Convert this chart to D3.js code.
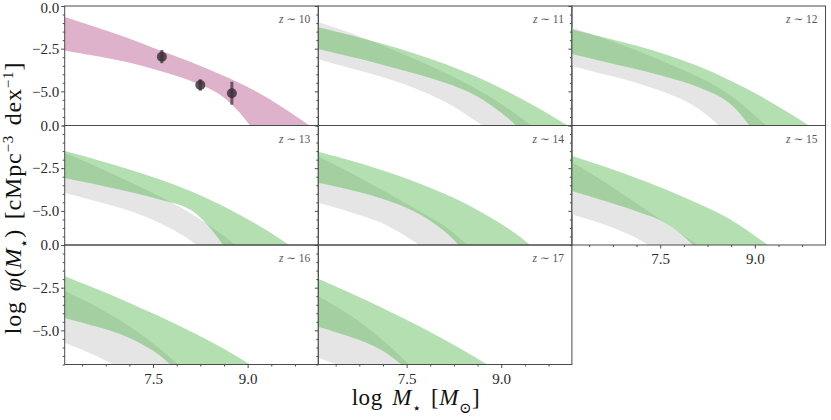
<!DOCTYPE html>
<html>
<head>
<meta charset="utf-8">
<script src="https://cdn.jsdelivr.net/npm/d3@7"></script>
<style>
  body { margin: 0; background: #fff; }
  svg { display: block; font-family: "Liberation Serif", "DejaVu Serif", serif; }
</style>
</head>
<body>
<svg id="chart" width="831" height="420"></svg>
<script>
// mass grid shared by every band edge (log M*)
var xGrid = [6.1, 6.6, 7.1, 7.6, 8.1, 8.6, 9.1, 9.6, 10.1];

var panelLabels = ["10", "11", "12", "13", "14", "15", "16", "17"];

// z~10 band + data points
var pinkUpper = [-0.64, -1.24, -1.87, -2.59, -3.28, -4.05, -4.94, -6.05, -7.3];
var pinkLower = [-2.62, -2.93, -3.3, -3.8, -4.4, -5.3, -7.3, -10.5, -14];
var pointX = [7.64, 8.25, 8.75];
var pointY = [-2.97, -4.63, -5.11];
var pointErr = [0.39, 0.34, 0.68];

// z~11 .. z~17, green band
var greenUpper = [
  [-1.24, -1.7, -2.2, -2.75, -3.38, -4.13, -5.01, -6.01, -7.11],
  [-1.38, -1.83, -2.3, -2.85, -3.52, -4.35, -5.3, -6.4, -7.6],
  [-1.5, -2.0, -2.55, -3.15, -3.85, -4.7, -5.7, -6.85, -8.1],
  [-1.54, -2.04, -2.6, -3.25, -4.0, -4.9, -6.0, -7.4, -8.9],
  [-1.77, -2.39, -3.05, -3.77, -4.57, -5.47, -6.72, -8.2, -9.8],
  [-1.83, -2.57, -3.35, -4.18, -5.06, -6.03, -7.15, -8.45, -9.85],
  [-1.98, -2.8, -3.66, -4.57, -5.55, -6.6, -7.72, -8.9, -10.1]
];
var greenLower = [
  [-2.52, -2.96, -3.42, -3.92, -4.48, -5.25, -6.55, -8.4, -10.5],
  [-2.81, -3.25, -3.68, -4.16, -4.75, -5.7, -8.0, -11, -14],
  [-3.07, -3.45, -3.87, -4.33, -4.95, -6.95, -10.5, -14, -17],
  [-3.36, -3.77, -4.28, -5.0, -6.2, -8.2, -11, -14, -17],
  [-3.84, -4.4, -5.0, -5.75, -7.3, -9.8, -12.5, -15, -18],
  [-4.27, -4.78, -5.4, -6.45, -8.3, -10.5, -13, -15.5, -18],
  [-4.79, -5.38, -6.15, -7.6, -9.5, -11.5, -14, -16.5, -19]
];

// z~11 .. z~17, grey band
var greyUpper = [
  [-0.94, -1.57, -2.28, -3.06, -3.9, -4.85, -5.99, -7.35, -8.8],
  [-1.26, -1.89, -2.57, -3.32, -4.15, -5.2, -6.75, -8.5, -10.5],
  [-1.6, -2.4, -3.25, -4.15, -5.15, -6.4, -7.9, -9.6, -11.5],
  [-1.8, -2.75, -3.75, -4.8, -5.9, -7.45, -9.3, -11.3, -13.5],
  [-2.15, -3.26, -4.5, -5.75, -7.03, -8.5, -10.2, -12, -14],
  [-2.7, -3.6, -4.7, -6.05, -7.7, -9.5, -11.5, -13.5, -15.5],
  [-3.0, -4.1, -5.5, -7.2, -9.0, -11, -13, -15, -17]
];
var greyLower = [
  [-3.12, -3.63, -4.15, -4.77, -5.6, -6.75, -8.1, -9.6, -11.2],
  [-3.51, -3.99, -4.48, -5.1, -6.0, -7.6, -9.6, -11.6, -13.6],
  [-3.94, -4.44, -4.97, -5.7, -6.75, -8.4, -10.3, -12.3, -14.3],
  [-4.53, -5.06, -5.7, -6.75, -8.1, -9.7, -11.4, -13.2, -15],
  [-5.21, -5.78, -6.55, -7.7, -9.0, -10.5, -12, -13.5, -15],
  [-5.73, -6.5, -7.45, -8.6, -9.8, -11, -12.5, -14, -15.5],
  [-6.61, -7.3, -8.1, -9.0, -10, -11, -12.5, -14, -15.5]
];

var yMajor = [0, -2.5, -5.0];
var yMinor = [-0.5, -1, -1.5, -2, -3, -3.5, -4, -4.5, -5.5, -6, -6.5, -7];
var xMajor = [7.5, 9.0];
var xMinor = [6.375, 6.75, 7.125, 7.875, 8.25, 8.625, 9.375, 9.75];

var LEFT = 64.7, TOP = 6, PW = 253.6, PH = 119.5;
var axisColor = "#4a4a4a";

var svg = d3.select("#chart");

var x = d3.scaleLinear().domain([6.1, 10.12]).range([0, PW]);
var y = d3.scaleLinear().domain([-7, 0]).range([PH, 0]);

svg.append("defs").append("clipPath")
    .attr("id", "panel-clip")
  .append("rect")
    .attr("width", PW)
    .attr("height", PH);

var band = d3.area()
    .x(function (d) { return x(d.x); })
    .y0(function (d) { return y(d.lo); })
    .y1(function (d) { return y(d.hi); })
    .curve(d3.curveCatmullRom.alpha(0.5));

var zip = function (lo, hi) {
  return xGrid.map(function (v, i) { return { x: v, lo: lo[i], hi: hi[i] }; });
};

var fmt = d3.format(".1f");

panelLabels.forEach(function (lab, i) {
  var row = Math.floor(i / 3), col = i % 3;
  var g = svg.append("g")
      .attr("transform", "translate(" + (LEFT + col * PW) + "," + (TOP + row * PH) + ")");

  var plot = g.append("g").attr("clip-path", "url(#panel-clip)");

  if (i === 0) {
    plot.append("path")
        .attr("d", band(zip(pinkLower, pinkUpper)))
        .attr("fill", "#dfb2cc");

    var pts = pointX.map(function (v, k) { return { x: v, y: pointY[k], e: pointErr[k] }; });
    plot.selectAll(".err")
        .data(pts)
        .enter().append("line")
        .attr("class", "err")
        .attr("x1", function (d) { return x(d.x); })
        .attr("x2", function (d) { return x(d.x); })
        .attr("y1", function (d) { return y(d.y + d.e); })
        .attr("y2", function (d) { return y(d.y - d.e); })
        .attr("stroke", "#3a2d37")
        .attr("stroke-opacity", 0.7)
        .attr("stroke-width", 3);
    plot.selectAll(".pt")
        .data(pts)
        .enter().append("circle")
        .attr("class", "pt")
        .attr("cx", function (d) { return x(d.x); })
        .attr("cy", function (d) { return y(d.y); })
        .attr("r", 5)
        .attr("fill", "#3a2d37")
        .attr("fill-opacity", 0.82);
  } else {
    var k = i - 1;
    plot.append("path")
        .attr("d", band(zip(greyLower[k], greyUpper[k])))
        .attr("fill", "#e5e5e5");
    plot.append("path")
        .attr("d", band(zip(greenLower[k], greenUpper[k])))
        .attr("fill", "rgb(66,176,60)")
        .attr("fill-opacity", 0.4);
  }

  // y ticks (labels only on the first column)
  g.append("g")
      .call(d3.axisLeft(y).tickValues(yMajor).tickSize(3.5).tickPadding(2)
        .tickFormat(col === 0 ? fmt : ""));
  g.append("g")
      .call(d3.axisLeft(y).tickValues(yMinor).tickSize(2).tickFormat(""));

  // x ticks only on panels with nothing below them
  if (i >= 5) {
    g.append("g")
        .attr("transform", "translate(0," + PH + ")")
        .call(d3.axisBottom(x).tickValues(xMajor).tickSize(3.5).tickPadding(5).tickFormat(fmt));
    g.append("g")
        .attr("transform", "translate(0," + PH + ")")
        .call(d3.axisBottom(x).tickValues(xMinor).tickSize(2).tickFormat(""));
  }

  g.append("rect")
      .attr("width", PW)
      .attr("height", PH)
      .attr("fill", "none")
      .attr("stroke", axisColor)
      .attr("stroke-width", 1);

  g.append("text")
      .attr("x", PW - 8)
      .attr("y", 17)
      .attr("text-anchor", "end")
      .attr("font-size", 11.5)
      .attr("fill", "#555")
      .html('<tspan font-style="italic">z</tspan> ∼ ' + lab);
});

svg.selectAll(".domain").remove();
svg.selectAll(".tick line").attr("stroke", axisColor);
svg.selectAll(".tick text")
    .attr("font-family", "Liberation Serif, DejaVu Serif, serif")
    .attr("font-size", 15)
    .attr("fill", "#2a2a2a");

// the very top 0.0 label sits on the page edge; nudge it down a touch
svg.selectAll(".tick text").filter(function () {
  return this.getBoundingClientRect().top < 1;
}).attr("dy", "0.45em");

// axis titles
svg.append("text")
    .attr("transform", "translate(21,198) rotate(-90)")
    .attr("text-anchor", "middle")
    .attr("font-size", 24)
    .attr("letter-spacing", 0.8)
    .attr("word-spacing", 3)
    .attr("fill", "#111")
    .html('log <tspan font-style="italic">φ</tspan>(<tspan font-style="italic">M</tspan>' +
          '<tspan font-size="15" baseline-shift="sub">⋆</tspan>) [cMpc' +
          '<tspan font-size="15" baseline-shift="super">−3</tspan> dex' +
          '<tspan font-size="15" baseline-shift="super">−1</tspan>]');

svg.append("text")
    .attr("x", 416)
    .attr("y", 405)
    .attr("text-anchor", "middle")
    .attr("font-size", 23)
    .attr("letter-spacing", 0.6)
    .attr("word-spacing", 3)
    .attr("fill", "#111")
    .html('log <tspan font-style="italic">M</tspan><tspan font-size="15" baseline-shift="sub">⋆</tspan>' +
          ' [<tspan font-style="italic">M</tspan><tspan font-size="15" baseline-shift="sub">⊙</tspan>]');
</script>
</body>
</html>
